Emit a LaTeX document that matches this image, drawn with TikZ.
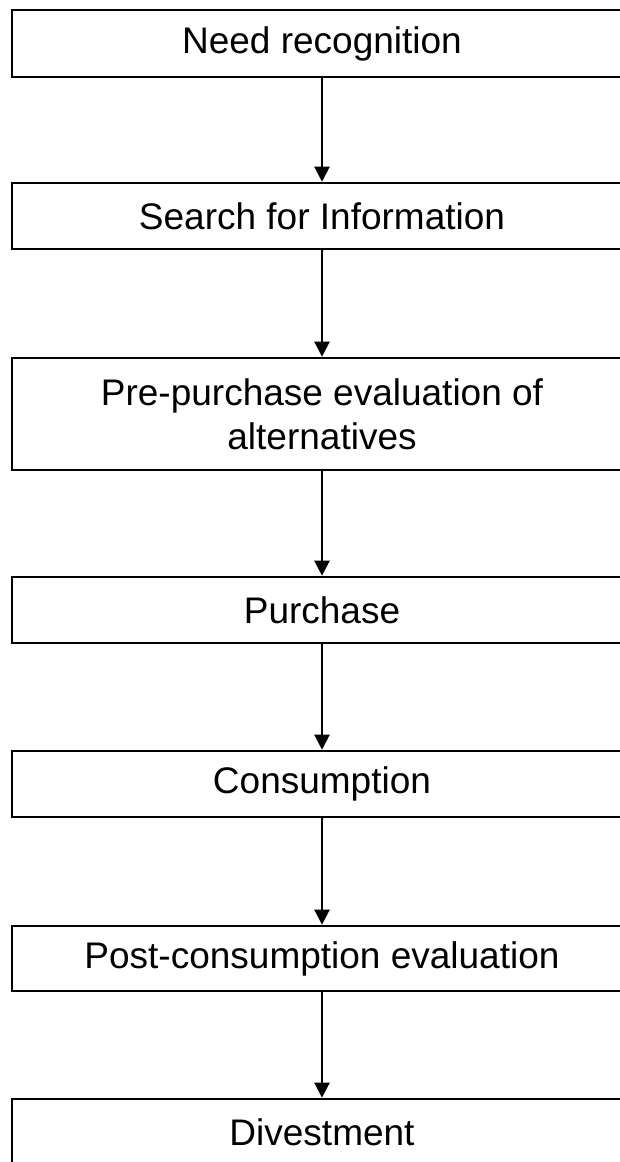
\documentclass[tikz,border=0pt]{standalone}
\usepackage{fontspec}
\setmainfont{Liberation Sans}
\usetikzlibrary{arrows.meta}
\begin{document}
\begin{tikzpicture}[x=1pt,y=-1pt,
  stagebox/.style={draw=black, line width=2.6pt, rectangle, minimum width=620pt,
    inner sep=0pt, align=center, font=\fontsize{37}{44}\selectfont},
  flow/.style={draw=black, line width=2.2pt, -{Triangle[width=15pt,length=15pt]}}]
  \useasboundingbox (0,0) rectangle (620,1162);
  \clip (0,0) rectangle (620,1162);
  \node[stagebox, minimum height=67pt] (need) at (322,43.5) {Need recognition};
  \node[stagebox, minimum height=66pt] (search) at (322,216) {Search for Information};
  \node[stagebox, minimum height=112pt] (eval) at (322,414) {Pre-purchase evaluation of\\alternatives};
  \node[stagebox, minimum height=66pt] (purchase) at (322,610) {Purchase};
  \node[stagebox, minimum height=66pt] (consume) at (322,784) {Consumption};
  \node[stagebox, minimum height=65pt] (post) at (322,958.5) {Post-consumption evaluation};
  \node[stagebox, minimum height=66pt] (divest) at (322,1132) {Divestment};
  \draw[flow] (need) -- (search);
  \draw[flow] (search) -- (eval);
  \draw[flow] (eval) -- (purchase);
  \draw[flow] (purchase) -- (consume);
  \draw[flow] (consume) -- (post);
  \draw[flow] (post) -- (divest);
\end{tikzpicture}
\end{document}
